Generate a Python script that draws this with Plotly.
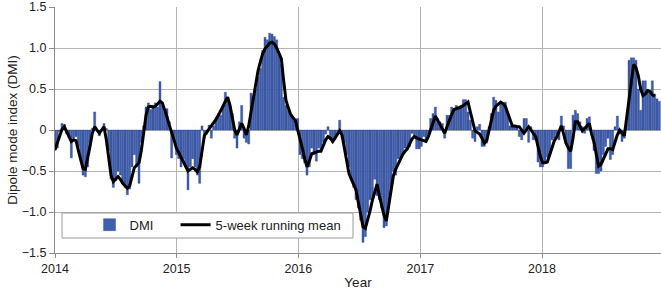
import plotly.graph_objects as go
import pandas as pd

START_DATE = "2014-01-01"

DMI = [
    -0.25, -0.22, -0.02, 0.08, 0.07, -0.05, -0.10, -0.34, -0.10, -0.08,
    -0.20, -0.35, -0.55, -0.57, -0.45, -0.15, 0.02, 0.22, -0.02, -0.07,
    0.00, 0.08, 0.02, -0.25, -0.60, -0.70, -0.62, -0.50, -0.55, -0.65,
    -0.70, -0.79, -0.72, -0.45, -0.30, -0.45, -0.65, -0.15, 0.05, 0.28,
    0.33, 0.25, 0.30, 0.33, 0.28, 0.59, 0.30, 0.22, 0.26, 0.10,
    -0.34, -0.10, -0.30, -0.35, -0.45, -0.35, -0.45, -0.73, -0.45, -0.35,
    -0.45, -0.55, -0.65, 0.05, -0.10, -0.05, 0.06, -0.10, 0.05, 0.15,
    0.20, 0.18, 0.30, 0.46, 0.40, 0.30, 0.20, -0.10, -0.22, 0.10,
    0.30, -0.10, -0.15, -0.17, 0.45, 0.40, 0.50, 0.65, 0.75, 0.97,
    1.13, 1.10, 1.18, 1.17, 1.14, 1.10, 0.92, 0.80, 0.40, 0.30,
    0.24, 0.18, 0.15, 0.12, 0.14, -0.30, -0.35, -0.40, -0.55, -0.45,
    -0.22, -0.30, -0.38, -0.22, -0.25, -0.15, -0.05, 0.04, -0.12, -0.15,
    -0.12, -0.05, 0.12, -0.10, -0.15, -0.30, -0.45, -0.60, -0.70, -0.85,
    -0.95, -1.10, -1.37, -1.30, -1.00, -0.85, -0.85, -0.60, -0.80, -0.85,
    -0.95, -1.19, -1.17, -0.90, -0.70, -0.50, -0.55, -0.35, -0.35, -0.30,
    -0.22, -0.22, -0.20, -0.04, -0.08, -0.23, -0.23, -0.20, -0.08, -0.15,
    -0.05, 0.14, 0.20, 0.28, 0.14, 0.10, 0.08, -0.10, 0.18, 0.18,
    0.28, 0.25, 0.30, 0.28, 0.30, 0.37, 0.37, 0.22, 0.12, -0.10,
    -0.14, 0.04, 0.07, -0.20, -0.20, -0.16, 0.04, 0.20, 0.40, 0.36,
    0.22, 0.34, 0.30, 0.34, 0.20, 0.05, 0.06, 0.05, 0.04, -0.08,
    -0.12, 0.14, 0.14, -0.15, 0.04, -0.12, -0.12, -0.39, -0.45, -0.45,
    -0.39, -0.33, -0.30, -0.12, -0.10, -0.05, -0.12, 0.17, 0.05, -0.15,
    -0.47, -0.47, 0.18, 0.24, 0.20, 0.10, 0.04, -0.04, 0.14, 0.16,
    0.00, -0.25, -0.53, -0.53, -0.50, -0.30, -0.20, -0.10, -0.36, -0.30,
    0.04, 0.17, -0.05, -0.14, -0.10, 0.10, 0.85, 0.88, 0.88, 0.85,
    0.50, 0.24, 0.60, 0.60, 0.47, 0.48, 0.60, 0.44, 0.38, 0.35,
]

RUNNING_MEAN = [
    -0.24, -0.15, -0.06, 0.01, 0.04, -0.02, -0.09, -0.14, -0.12, -0.13,
    -0.25, -0.37, -0.47, -0.48, -0.35, -0.20, -0.04, 0.04, 0.00, -0.04,
    0.00, 0.04, -0.12, -0.35, -0.55, -0.63, -0.60, -0.57, -0.60, -0.65,
    -0.68, -0.71, -0.68, -0.55, -0.46, -0.43, -0.40, -0.25, -0.05, 0.18,
    0.28, 0.29, 0.28, 0.29, 0.32, 0.35, 0.33, 0.25, 0.16, 0.06,
    -0.02, -0.12, -0.22, -0.28, -0.34, -0.40, -0.46, -0.50, -0.48, -0.46,
    -0.48, -0.51, -0.45, -0.25, -0.07, -0.03, 0.01, 0.04, 0.08, 0.13,
    0.18, 0.23, 0.29, 0.35, 0.40, 0.30, 0.15, 0.00, -0.06, 0.02,
    0.08, 0.02, -0.06, 0.05, 0.22, 0.39, 0.55, 0.72, 0.83, 0.93,
    0.99, 1.03, 1.06, 1.07, 1.05, 1.00, 0.94, 0.87, 0.60, 0.36,
    0.27, 0.19, 0.15, 0.12, 0.00, -0.10, -0.22, -0.35, -0.45, -0.38,
    -0.29, -0.28, -0.27, -0.26, -0.26, -0.19, -0.12, -0.08, -0.10, -0.14,
    -0.10, -0.05, -0.01, -0.06, -0.22, -0.38, -0.53, -0.60, -0.67, -0.73,
    -0.88, -1.03, -1.18, -1.20, -1.10, -0.99, -0.86, -0.74, -0.66, -0.80,
    -0.92, -1.04, -1.11, -0.93, -0.73, -0.56, -0.48, -0.42, -0.35, -0.30,
    -0.26, -0.23, -0.17, -0.11, -0.08, -0.10, -0.11, -0.12, -0.13, -0.14,
    -0.08, 0.00, 0.09, 0.17, 0.12, 0.06, 0.00, -0.04, 0.04, 0.12,
    0.19, 0.25, 0.26, 0.27, 0.28, 0.30, 0.32, 0.34, 0.22, 0.09,
    -0.01, -0.03, -0.05, -0.10, -0.16, -0.13, -0.01, 0.12, 0.24, 0.29,
    0.32, 0.34, 0.32, 0.29, 0.21, 0.12, 0.05, 0.05, 0.04, 0.04,
    0.00, -0.04, 0.00, 0.04, 0.00, -0.04, -0.08, -0.20, -0.32, -0.40,
    -0.40, -0.39, -0.30, -0.20, -0.13, -0.09, -0.02, 0.05, -0.05, -0.16,
    -0.22, -0.26, -0.10, 0.10, 0.10, 0.04, -0.01, 0.02, 0.05, 0.08,
    -0.05, -0.15, -0.30, -0.44, -0.42, -0.35, -0.30, -0.23, -0.23, -0.24,
    -0.15, -0.06, 0.00, -0.04, -0.07, 0.15, 0.38, 0.60, 0.80, 0.76,
    0.66, 0.50, 0.42, 0.44, 0.48, 0.47, 0.43, 0.41,
]

Y_TICKS = [1.5, 1.0, 0.5, 0, -0.5, -1.0, -1.5]
Y_TICK_LABELS = ["1.5", "1.0", "0.5", "0", "\u22120.5", "\u22121.0", "\u22121.5"]
X_TICKS = ["2014-01-01", "2015-01-01", "2016-01-01", "2017-01-01", "2018-01-01"]
X_TICK_LABELS = ["2014", "2015", "2016", "2017", "2018"]

weeks = pd.date_range(START_DATE, periods=len(DMI), freq="7D")
weeks_mean = weeks[: len(RUNNING_MEAN)]

FONT = "Liberation Sans, Arial, Helvetica, sans-serif"
GRID = "#b4b4b4"
AXIS = "#8c8c8c"

fig = go.Figure()
fig.add_trace(go.Bar(
    x=weeks, y=DMI, name="DMI", legend="legend",
    marker=dict(color="#3f5fb0", line=dict(color="#2a3f86", width=0.4)),
))
fig.add_trace(go.Scatter(
    x=weeks_mean, y=RUNNING_MEAN, name="5-week running mean", legend="legend2",
    mode="lines", line=dict(color="black", width=3),
))

LEG_Y = 0.115
fig.update_layout(
    width=661, height=290,
    margin=dict(l=55, r=0, t=7, b=37, autoexpand=False),
    paper_bgcolor="white", plot_bgcolor="white",
    font=dict(family=FONT, size=12, color="#222"),
    bargap=0.12,
    showlegend=True,
    legend=dict(
        orientation="h", x=0.057, y=LEG_Y, xanchor="left", yanchor="middle",
        bgcolor="rgba(0,0,0,0)", borderwidth=0,
        font=dict(size=13, color="#222"),
    ),
    legend2=dict(
        orientation="h", x=0.199, y=LEG_Y, xanchor="left", yanchor="middle",
        bgcolor="rgba(0,0,0,0)", borderwidth=0,
        font=dict(size=13, color="#222"),
    ),
    shapes=[dict(
        type="rect", xref="paper", yref="paper", layer="above",
        x0=7 / 606, x1=298 / 606, y0=15 / 246, y1=40 / 246,
        fillcolor="white", line=dict(color="#9a9a9a", width=1),
    )],
)

fig.update_xaxes(
    type="date",
    range=["2014-01-01", "2018-12-24"],
    tickvals=X_TICKS, ticktext=X_TICK_LABELS,
    showgrid=True, gridcolor=GRID, gridwidth=1,
    showline=True, linecolor=AXIS, linewidth=1,
    ticks="outside", ticklen=4, tickcolor=AXIS,
    tickfont=dict(size=12.5),
    title=dict(text="Year", font=dict(size=13.5), standoff=2),
    zeroline=False, automargin=False,
)
fig.update_yaxes(
    range=[-1.5, 1.5],
    tickvals=Y_TICKS, ticktext=Y_TICK_LABELS,
    showgrid=True, gridcolor=GRID, gridwidth=1,
    showline=True, linecolor=AXIS, linewidth=1,
    ticks="outside", ticklen=5, tickcolor=AXIS,
    tickfont=dict(size=12.5), ticklabeloverflow="allow",
    title=dict(text="Dipole mode index (DMI)", font=dict(size=13.5), standoff=1),
    zeroline=False, automargin=False,
)

fig.write_html(
    "out.html",
    config={"displayModeBar": False},
    post_script="document.body.style.margin='0';document.body.style.overflow='hidden';",
)
